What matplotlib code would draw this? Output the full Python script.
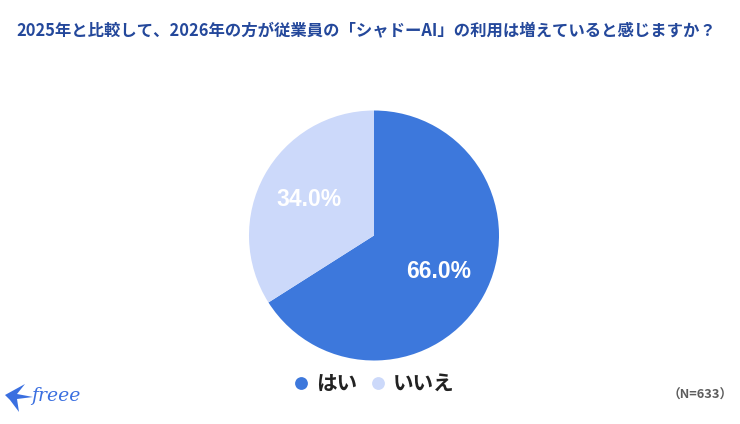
import matplotlib
matplotlib.use('Agg')
import matplotlib.pyplot as plt
from matplotlib.patches import Polygon

plt.rcParams['font.family'] = ['Noto Sans CJK JP', 'DejaVu Sans']

labels = ['はい', 'いいえ']
values = [66.0, 34.0]
colors = ['#3d78dc', '#ccd9fa']
title = '2025年と比較して、2026年の方が従業員の「シャドーAI」の利用は増えていると感じますか？'
note = '（N=633）'

W, H = 740, 424
fig = plt.figure(figsize=(W / 100, H / 100), dpi=100, facecolor='white')

# Pie
ax = fig.add_axes([249 / W, 1 - 361 / H, 250 / W, 251 / H])
wedges, _ = ax.pie(values, colors=colors, startangle=90, counterclock=False,
                   radius=1.0, wedgeprops=dict(linewidth=0))
ax.set_xlim(-1, 1); ax.set_ylim(-1, 1)
ax.axis('off')

# Overlay in pixel coordinates
ov = fig.add_axes([0, 0, 1, 1], facecolor='none')
ov.set_xlim(0, W); ov.set_ylim(H, 0); ov.axis('off')

ov.text(366, 31.5, title, ha='center', va='center', fontsize=11.8,
        fontweight='bold', color='#24489b')
pct_font = ['Liberation Sans', 'DejaVu Sans']
ov.text(438.5, 271, f'{values[0]:.1f}%', ha='center', va='center', fontsize=16.5,
        fontweight='bold', color='white', family=pct_font)
ov.text(308.5, 199, f'{values[1]:.1f}%', ha='center', va='center', fontsize=16.5,
        fontweight='bold', color='white', family=pct_font)

# Legend
ov.scatter([301], [383], s=85, color=colors[0], linewidths=0)
ov.scatter([377.5], [383], s=85, color=colors[1], linewidths=0)
ov.text(316, 383, labels[0], ha='left', va='center', fontsize=14.8, fontweight='bold', color='#222222')
ov.text(393, 383, labels[1], ha='left', va='center', fontsize=14.8, fontweight='bold', color='#222222')

ov.text(733, 395.5, note, ha='right', va='center', fontsize=9.2, fontweight='bold', color='#5c5c5c')

# Logo: paper-plane mark and wordmark
logo = '#3a6fe0'
ov.add_patch(Polygon([(5, 395), (25, 384), (17, 394), (33, 397), (17, 399), (19, 412), (10, 400)],
                     closed=True, facecolor=logo, edgecolor='none'))
ov.text(56, 396, 'freee', ha='center', va='center', fontsize=13.5, style='italic',
        color=logo, family=['DejaVu Serif', 'DejaVu Sans'])

fig.savefig('out.png', dpi=100, facecolor='white')
